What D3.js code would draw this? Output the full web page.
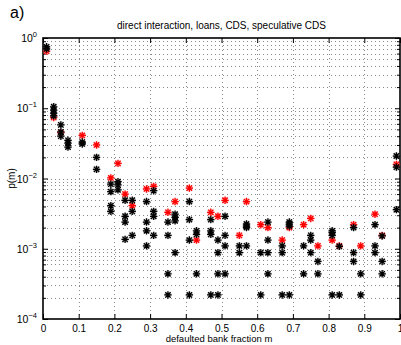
<!DOCTYPE html>
<html>
<head>
<meta charset="utf-8">
<script src="https://cdn.jsdelivr.net/npm/d3@7"></script>
<style>
body { margin: 0; background: #fff; }
svg { display: block; }
text { font-family: "Liberation Sans", Arial, sans-serif; }
</style>
</head>
<body>
<div id="chart"></div>
<script>
// data: [m, p(m)]
var redPoints = [
  [0.01, 0.65], [0.03, 0.074], [0.05, 0.045], [0.11, 0.041], [0.15, 0.030],
  [0.19, 0.0102], [0.21, 0.0164], [0.23, 0.0060], [0.25, 0.0041], [0.29, 0.0071],
  [0.31, 0.0077], [0.35, 0.0033], [0.37, 0.0047], [0.41, 0.0073], [0.43, 0.00133],
  [0.47, 0.0033], [0.49, 0.0029], [0.51, 0.0049], [0.55, 0.00155], [0.57, 0.0047],
  [0.61, 0.0022], [0.63, 0.0020], [0.67, 0.00133], [0.69, 0.0020], [0.73, 0.0022],
  [0.75, 0.0027], [0.77, 0.0011], [0.81, 0.00133], [0.83, 0.0011], [0.87, 0.0022],
  [0.89, 0.0011], [0.93, 0.0031], [0.95, 0.00155], [0.99, 0.0159]
];
var blackPoints = [
  [0.01, 0.75], [0.01, 0.70],
  [0.03, 0.105], [0.03, 0.094], [0.03, 0.085], [0.03, 0.078],
  [0.05, 0.058], [0.05, 0.046], [0.05, 0.040],
  [0.07, 0.035], [0.07, 0.032], [0.07, 0.028],
  [0.11, 0.033], [0.11, 0.031],
  [0.15, 0.020], [0.15, 0.0135],
  [0.19, 0.0083], [0.19, 0.0065], [0.19, 0.0041], [0.19, 0.0034],
  [0.21, 0.0090], [0.21, 0.0081], [0.21, 0.0069],
  [0.23, 0.0049], [0.23, 0.0029], [0.23, 0.0024], [0.23, 0.00136],
  [0.25, 0.0049], [0.25, 0.0034], [0.25, 0.00155],
  [0.29, 0.0047], [0.29, 0.0024], [0.29, 0.0018], [0.29, 0.0011],
  [0.31, 0.0067], [0.31, 0.0034], [0.31, 0.0029], [0.31, 0.00155],
  [0.35, 0.0024], [0.35, 0.00155], [0.35, 0.00044], [0.35, 0.00022],
  [0.37, 0.0031], [0.37, 0.0028], [0.37, 0.0025], [0.37, 0.00088],
  [0.41, 0.0047], [0.41, 0.0026], [0.41, 0.00133], [0.41, 0.00022],
  [0.43, 0.0018], [0.43, 0.0016], [0.43, 0.00044],
  [0.47, 0.0026], [0.47, 0.0018], [0.47, 0.0016], [0.47, 0.00022],
  [0.49, 0.00133], [0.49, 0.00088], [0.49, 0.00044], [0.49, 0.00022],
  [0.51, 0.0029], [0.51, 0.00155], [0.51, 0.0011], [0.51, 0.00044],
  [0.55, 0.0011], [0.55, 0.00088],
  [0.57, 0.00225], [0.57, 0.0021], [0.57, 0.0020], [0.57, 0.0011],
  [0.61, 0.00088], [0.61, 0.00022],
  [0.63, 0.0024], [0.63, 0.00133], [0.63, 0.00088], [0.63, 0.00044],
  [0.67, 0.0011], [0.67, 0.00088], [0.67, 0.00022],
  [0.69, 0.0024], [0.69, 0.00225], [0.69, 0.0021], [0.69, 0.00022],
  [0.73, 0.0011], [0.73, 0.00044],
  [0.75, 0.00155], [0.75, 0.00133], [0.75, 0.00088],
  [0.77, 0.00066], [0.77, 0.00044],
  [0.81, 0.0018], [0.81, 0.0017], [0.81, 0.00155], [0.81, 0.00022],
  [0.83, 0.00108], [0.83, 0.00022],
  [0.87, 0.0020], [0.87, 0.00088], [0.87, 0.00066],
  [0.89, 0.00044], [0.89, 0.00022],
  [0.93, 0.0022], [0.93, 0.0011], [0.93, 0.00088],
  [0.95, 0.00152], [0.95, 0.00066], [0.95, 0.00044],
  [0.99, 0.0209], [0.99, 0.0145], [0.99, 0.0036]
];
var xTicks = [0, 0.1, 0.2, 0.3, 0.4, 0.5, 0.6, 0.7, 0.8, 0.9, 1];
var xTickLabels = ["0", "0.1", "0.2", "0.3", "0.4", "0.5", "0.6", "0.7", "0.8", "0.9", "1"];
var yTicks = [1, 1e-1, 1e-2, 1e-3, 1e-4];
var yTickExp = ["0", "\u22121", "\u22122", "\u22123", "\u22124"];

var margin = {top: 38, right: 1, bottom: 26, left: 43},
    width = 401 - margin.left - margin.right,
    height = 345 - margin.top - margin.bottom;

var root = d3.select("#chart")
    .append("svg")
    .attr("width", 401)
    .attr("height", 345);

var svg = root.append("g")
    .attr("transform", "translate(" + margin.left + "," + margin.top + ")");

var x = d3.scaleLinear().domain([0, 1]).range([0, width]);
var y = d3.scaleLog().domain([1e-4, 1]).range([height, 0]);

// minor values of the log axis
var yMinor = [];
for (var k = -4; k < 0; k++) {
    for (var d = 2; d <= 9; d++) yMinor.push(d * Math.pow(10, k));
}

// grid (dotted)
svg.append("g")
    .selectAll("line")
    .data(xTicks.slice(1, -1))
    .enter()
    .append("line")
    .attr("x1", function(d) { return Math.round(x(d)) + 0.5; })
    .attr("x2", function(d) { return Math.round(x(d)) + 0.5; })
    .attr("y1", 0)
    .attr("y2", height)
    .attr("stroke", "#8a8a8a")
    .attr("stroke-dasharray", "1,3");

svg.append("g")
    .selectAll("line")
    .data(yTicks.slice(1, -1).concat(yMinor))
    .enter()
    .append("line")
    .attr("x1", 0)
    .attr("x2", width)
    .attr("y1", function(d) { return Math.round(y(d)) + 0.5; })
    .attr("y2", function(d) { return Math.round(y(d)) + 0.5; })
    .attr("stroke", "#8a8a8a")
    .attr("stroke-dasharray", "1,3");

// axes, ticks inside on all four sides
var tickStyle = function(g) {
    g.select(".domain").remove();
    g.selectAll("line").attr("stroke", "#000");
};

svg.append("g")
    .attr("transform", "translate(0," + height + ")")
    .call(d3.axisBottom(x).tickValues(xTicks).tickSize(-5).tickPadding(6)
        .tickFormat(function(d, i) { return xTickLabels[i]; }))
    .call(tickStyle)
    .selectAll("text")
    .attr("font-size", "10px")
    .attr("fill", "#000")
    .attr("font-family", "Liberation Sans, Arial, sans-serif");

svg.append("g")
    .call(d3.axisTop(x).tickValues(xTicks).tickSize(-5).tickFormat(""))
    .call(tickStyle);

svg.append("g")
    .call(d3.axisLeft(y).tickValues(yTicks).tickSize(-5).tickFormat(""))
    .call(tickStyle);
svg.append("g")
    .call(d3.axisLeft(y).tickValues(yMinor).tickSize(-3).tickFormat(""))
    .call(tickStyle);
svg.append("g")
    .attr("transform", "translate(" + width + ",0)")
    .call(d3.axisRight(y).tickValues(yTicks).tickSize(-5).tickFormat(""))
    .call(tickStyle);
svg.append("g")
    .attr("transform", "translate(" + width + ",0)")
    .call(d3.axisRight(y).tickValues(yMinor).tickSize(-3).tickFormat(""))
    .call(tickStyle);

// y tick labels 10^k
var yLab = svg.append("g")
    .selectAll("text")
    .data(yTicks)
    .enter()
    .append("text")
    .attr("x", -6)
    .attr("y", function(d) { return y(d) + 4; })
    .attr("text-anchor", "end")
    .attr("font-size", "10.5px");
yLab.append("tspan").text("10");
yLab.append("tspan")
    .attr("dy", -5)
    .attr("font-size", "7.5px")
    .text(function(d, i) { return yTickExp[i]; });

// box
svg.append("rect")
    .attr("x", 0)
    .attr("y", 0)
    .attr("width", width)
    .attr("height", height)
    .attr("fill", "none")
    .attr("stroke", "#000")
    .attr("stroke-width", 1.6);

// asterisk markers
var r = 3.7, a = 2.7;
var star = "M" + (-r) + ",0H" + r + "M0," + (-r) + "V" + r +
    "M" + (-a) + "," + (-a) + "L" + a + "," + a + "M" + (-a) + "," + a + "L" + a + "," + (-a);

function drawStars(data, color, halo) {
    var g = svg.append("g");
    g.selectAll("circle")
        .data(data)
        .enter()
        .append("circle")
        .attr("cx", function(d) { return x(d[0]); })
        .attr("cy", function(d) { return y(d[1]); })
        .attr("r", 3.5)
        .attr("fill", halo);
    g.selectAll("path")
        .data(data)
        .enter()
        .append("path")
        .attr("d", star)
        .attr("transform", function(d) { return "translate(" + x(d[0]) + "," + y(d[1]) + ")"; })
        .attr("fill", "none")
        .attr("stroke", color)
        .attr("stroke-width", 1.25);
}

drawStars(redPoints, "#ff0000", "rgba(255,120,120,0.45)");
drawStars(blackPoints, "#000", "rgba(120,120,120,0.45)");

// texts
root.append("text")
    .attr("x", margin.left + width / 2)
    .attr("y", 29)
    .attr("text-anchor", "middle")
    .attr("font-size", "10px")
    .text("direct interaction, loans, CDS, speculative CDS");

root.append("text")
    .attr("x", 219)
    .attr("y", 342)
    .attr("text-anchor", "middle")
    .attr("font-size", "9.5px")
    .text("defaulted bank fraction m");

root.append("text")
    .attr("transform", "translate(15," + (margin.top + y(0.01)) + ") rotate(-90)")
    .attr("text-anchor", "middle")
    .attr("font-size", "10px")
    .text("p(m)");

root.append("text")
    .attr("x", 10)
    .attr("y", 18)
    .attr("font-family", "Liberation Serif, Times New Roman, serif")
    .attr("font-size", "16px")
    .text("a)");
</script>
</body>
</html>
